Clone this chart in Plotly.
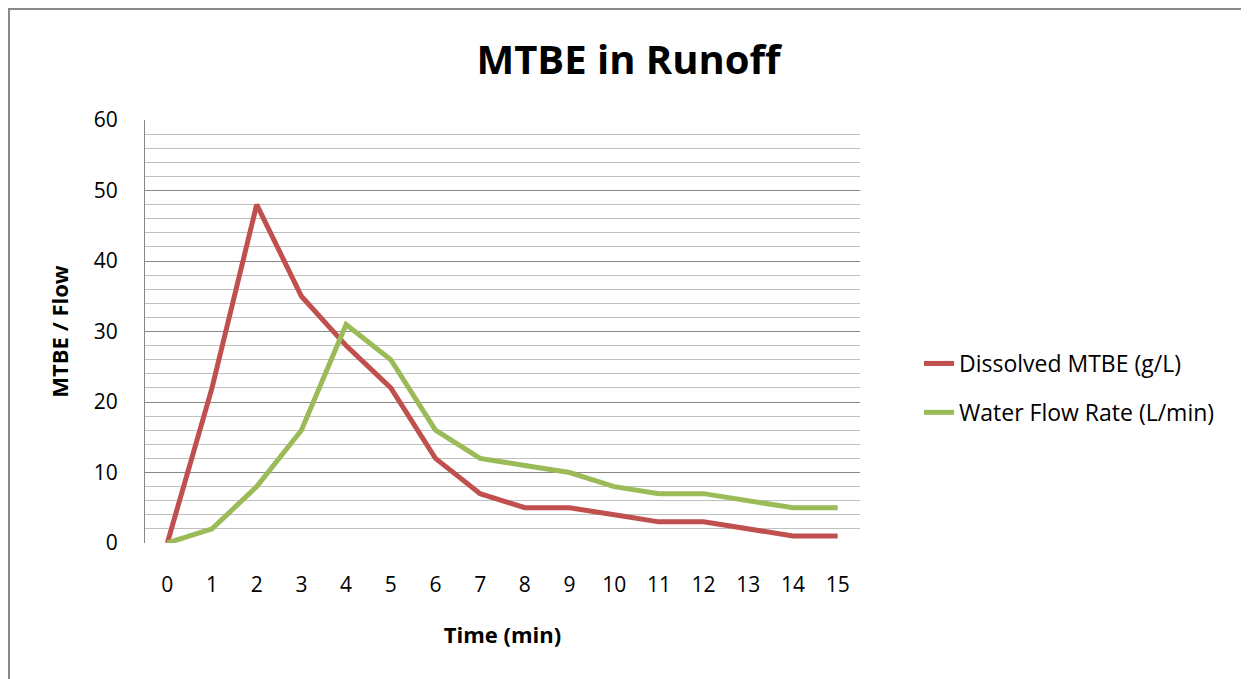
import plotly.graph_objects as go

time_labels = [str(i) for i in range(16)]
mtbe = [0, 22, 48, 35, 28, 22, 12, 7, 5, 5, 4, 3, 3, 2, 1, 1]
flow = [0, 2, 8, 16, 31, 26, 16, 12, 11, 10, 8, 7, 7, 6, 5, 5]

OFF = 8  # page body margin
W, H = 1249 - OFF, 679 - OFF
L, R, T, B = 145 - OFF, 860 - OFF, 120 - OFF, 543 - OFF
FONT = "'Open Sans', Lato, sans-serif"

fig = go.Figure()
fig.add_trace(go.Scatter(x=time_labels, y=mtbe, mode="lines", name="Dissolved MTBE (g/L)",
                         line=dict(color="#C0504D", width=5), legendgroup="a"))
fig.add_trace(go.Scatter(x=time_labels, y=flow, mode="lines", name="Water Flow Rate (L/min)",
                         line=dict(color="#9BBB59", width=5), legendgroup="b"))

def px(x):
    return (x - OFF - L) / (R - L)

def py(y):
    return (B - (y - OFF)) / (B - T)

fig.update_layout(
    width=W, height=H,
    margin=dict(l=L, r=W - R, t=T, b=H - B),
    paper_bgcolor="white", plot_bgcolor="white",
    font=dict(family=FONT, size=21, color="#000000"),
    title=dict(text="<b>MTBE in Runoff</b>", x=(628.5 - OFF) / W, xref="container", xanchor="center",
               y=1 - (60 - OFF) / H, yanchor="middle", font=dict(size=40, family=FONT)),
    xaxis=dict(type="category", range=[-0.5, 15.5], showgrid=False, showline=False,
               ticks="", ticklabelstandoff=27, tickfont=dict(size=21),
               title=dict(text="<b>Time (min)</b>", font=dict(size=22), standoff=30)),
    yaxis=dict(range=[0, 60], dtick=10, showgrid=True, gridcolor="#868686", gridwidth=1.3,
               minor=dict(dtick=2, showgrid=True, gridcolor="#BFBFBF", gridwidth=1.3),
               showline=True, linecolor="#868686", linewidth=1.3, zeroline=False,
               ticks="", ticklabelstandoff=22, tickfont=dict(size=21),
               title=dict(text="<b>MTBE / Flow</b>", font=dict(size=22), standoff=18)),
    legend=dict(x=px(919), xanchor="left", y=py(388), yanchor="middle",
                font=dict(size=23), tracegroupgap=16, bgcolor="rgba(0,0,0,0)"),
    showlegend=True,
)

fig.add_shape(type="rect", xref="paper", yref="paper",
              x0=px(OFF + 1), x1=px(1300), y0=py(OFF + 1), y1=py(720),
              line=dict(color="#888888", width=2), fillcolor="rgba(0,0,0,0)", layer="below")

fig.write_html("out.html")
